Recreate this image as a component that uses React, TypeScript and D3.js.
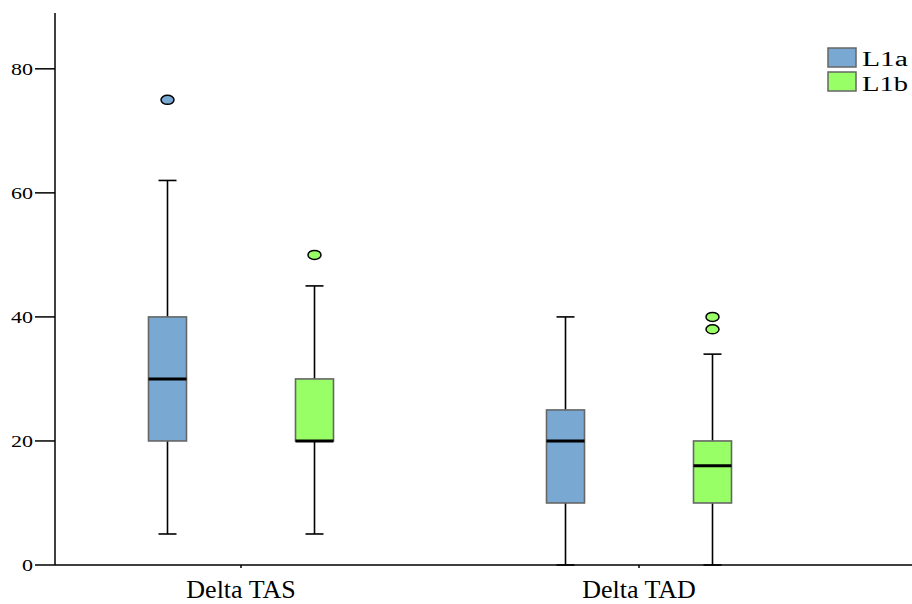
import React from "react";
import * as d3 from "d3";

const categories = ["Delta TAS", "Delta TAD"];
const seriesNames = ["L1a", "L1b"];
const seriesColors = ["#79a8d3", "#99ff66"];
// [category][series]: whiskerLow, q1, median, q3, whiskerHigh
const lowWhisker = [[5, 5], [0, 0]];
const q1Values = [[20, 20], [10, 10]];
const medianValues = [[30, 20], [20, 16]];
const q3Values = [[40, 30], [25, 20]];
const highWhisker = [[62, 45], [40, 34]];
const outlierValues = [[[75], [50]], [[], [40, 38]]];
const yTicks = [0, 20, 40, 60, 80];

const W = 912;
const H = 604;

export default function App() {
  const y = d3.scaleLinear().domain([0, 89]).range([565, 13]);
  const x = d3.scaleBand<string>().domain(categories).range([42, 838]);
  const xs = d3.scalePoint<string>().domain(seriesNames).range([-73.5, 73.5]);
  const boxW = 38;
  const capW = 18;
  const font = "Liberation Serif, Times New Roman, serif";

  const boxes: any[] = [];
  categories.forEach((cat, ci) => {
    const cc = (x(cat) as number) + x.bandwidth() / 2;
    seriesNames.forEach((s, si) => {
      const cx = cc + (xs(s) as number);
      const col = seriesColors[si];
      boxes.push(
        <g key={cat + s}>
          <line x1={cx} x2={cx} y1={y(lowWhisker[ci][si])} y2={y(q1Values[ci][si])} stroke="#000" strokeWidth={1.6} />
          <line x1={cx} x2={cx} y1={y(q3Values[ci][si])} y2={y(highWhisker[ci][si])} stroke="#000" strokeWidth={1.6} />
          <line x1={cx - capW / 2} x2={cx + capW / 2} y1={y(lowWhisker[ci][si])} y2={y(lowWhisker[ci][si])} stroke="#000" strokeWidth={1.6} />
          <line x1={cx - capW / 2} x2={cx + capW / 2} y1={y(highWhisker[ci][si])} y2={y(highWhisker[ci][si])} stroke="#000" strokeWidth={1.6} />
          <rect
            x={cx - boxW / 2}
            y={y(q3Values[ci][si])}
            width={boxW}
            height={y(q1Values[ci][si]) - y(q3Values[ci][si])}
            fill={col}
            stroke="#666"
            strokeWidth={1.6}
          />
          <line x1={cx - boxW / 2} x2={cx + boxW / 2} y1={y(medianValues[ci][si])} y2={y(medianValues[ci][si])} stroke="#000" strokeWidth={3} />
          {outlierValues[ci][si].map((v, k) => (
            <ellipse key={k} cx={cx} cy={y(v)} rx={6.5} ry={4.5} fill={col} stroke="#000" strokeWidth={1.5} />
          ))}
        </g>
      );
    });
  });

  return (
    <div style={{ position: "absolute", left: 0, top: 0 }}>
      <svg width={W} height={H} style={{ display: "block", background: "#fff", fontFamily: font }}>
        {/* y axis */}
        <line x1={55} x2={55} y1={13} y2={565} stroke="#000" strokeWidth={1.5} />
        {yTicks.map((t) => (
          <g key={t}>
            <line x1={35} x2={55} y1={y(t)} y2={y(t)} stroke="#000" strokeWidth={1.5} />
            <text
              x={33}
              y={y(t)}
              dy="0.35em"
              textAnchor="end"
              style={{ fontFamily: font }}
              fontSize={17}
              textLength={11 * String(t).length}
              lengthAdjust="spacingAndGlyphs"
              fill="#000"
            >
              {t}
            </text>
          </g>
        ))}
        {/* x axis */}
        <line x1={55} x2={912} y1={565} y2={565} stroke="#000" strokeWidth={1.5} />
        {categories.map((c) => {
          const cc = (x(c) as number) + x.bandwidth() / 2;
          return (
            <g key={c}>
              <line x1={cc} x2={cc} y1={565} y2={568} stroke="#000" strokeWidth={1.5} />
              <text x={cc} y={598} textAnchor="middle" style={{ fontFamily: font }} fontSize={26} fill="#000">
                {c}
              </text>
            </g>
          );
        })}
        {boxes}
        {/* legend */}
        {seriesNames.map((s, i) => (
          <g key={s}>
            <rect x={828} y={48 + i * 24} width={28} height={19} fill={seriesColors[i]} stroke="#666" strokeWidth={1.5} />
            <text
              x={862}
              y={66 + i * 25}
              style={{ fontFamily: font }}
              fontSize={20}
              textLength={46}
              lengthAdjust="spacingAndGlyphs"
              fill="#000"
            >
              {s}
            </text>
          </g>
        ))}
      </svg>
    </div>
  );
}
